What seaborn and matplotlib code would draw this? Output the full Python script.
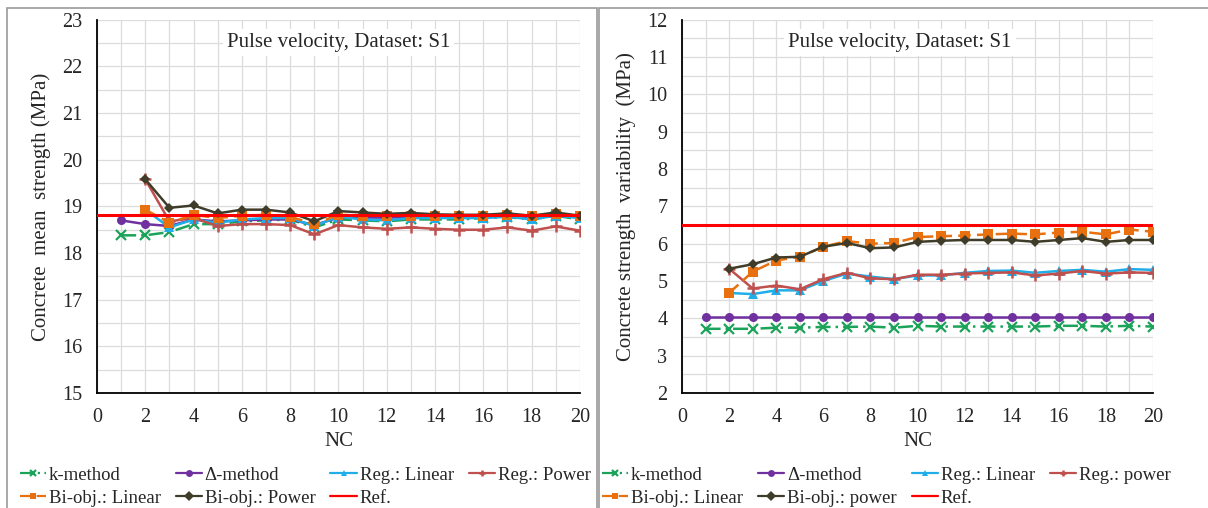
import numpy as np
import pandas as pd
import seaborn as sns
import matplotlib
matplotlib.use("Agg")
import matplotlib.pyplot as plt
from matplotlib.patches import Rectangle

NC = list(range(1, 21))
NC2 = list(range(2, 21))

# Left panel: mean strength (MPa)
mean_k = [18.38, 18.38, 18.45, 18.62, 18.62, 18.68, 18.70, 18.72, 18.55, 18.72,
          18.70, 18.68, 18.72, 18.72, 18.72, 18.75, 18.77, 18.72, 18.80, 18.72]
mean_delta = [18.70, 18.62, 18.58, 18.72, 18.68, 18.70, 18.72, 18.72, 18.60, 18.76,
              18.76, 18.76, 18.77, 18.77, 18.77, 18.77, 18.78, 18.76, 18.80, 18.77]
mean_reg_lin = [18.93, 18.55, 18.72, 18.65, 18.72, 18.75, 18.75, 18.58, 18.78, 18.72,
                18.70, 18.75, 18.75, 18.75, 18.75, 18.78, 18.72, 18.80, 18.75]
mean_reg_pow = [19.58, 18.68, 18.75, 18.58, 18.62, 18.62, 18.60, 18.40, 18.60, 18.55,
                18.52, 18.55, 18.52, 18.50, 18.50, 18.55, 18.48, 18.57, 18.48]
mean_bi_lin = [18.93, 18.65, 18.82, 18.75, 18.80, 18.82, 18.78, 18.62, 18.82, 18.80,
               18.80, 18.80, 18.80, 18.80, 18.80, 18.82, 18.80, 18.84, 18.80]
mean_bi_pow = [19.58, 18.97, 19.02, 18.85, 18.93, 18.93, 18.87, 18.68, 18.90, 18.87,
               18.84, 18.86, 18.83, 18.82, 18.82, 18.85, 18.80, 18.87, 18.80]
mean_ref = 18.82

# Right panel: strength variability (MPa)
var_k = [3.72, 3.72, 3.72, 3.75, 3.75, 3.77, 3.77, 3.78, 3.75, 3.80,
         3.78, 3.78, 3.78, 3.78, 3.78, 3.80, 3.80, 3.78, 3.80, 3.78]
var_delta = [4.03] * 20
var_reg_lin = [4.68, 4.65, 4.75, 4.75, 5.00, 5.20, 5.12, 5.05, 5.15, 5.15,
               5.22, 5.27, 5.28, 5.22, 5.27, 5.30, 5.25, 5.32, 5.30]
var_reg_pow = [5.33, 4.80, 4.88, 4.78, 5.05, 5.22, 5.07, 5.05, 5.17, 5.17,
               5.20, 5.22, 5.23, 5.15, 5.20, 5.27, 5.20, 5.23, 5.22]
var_bi_lin = [4.68, 5.25, 5.55, 5.65, 5.92, 6.07, 6.00, 6.02, 6.18, 6.20,
              6.22, 6.25, 6.27, 6.25, 6.30, 6.32, 6.25, 6.38, 6.32]
var_bi_pow = [5.33, 5.45, 5.63, 5.65, 5.92, 6.02, 5.88, 5.90, 6.05, 6.08,
              6.10, 6.10, 6.10, 6.05, 6.10, 6.15, 6.05, 6.10, 6.10]
var_ref = 6.50

ref_x = [0, 20]

labels_left = ["k-method", "Δ-method", "Reg.: Linear", "Reg.: Power",
               "Bi-obj.: Linear", "Bi-obj.: Power", "Ref."]
labels_right = ["k-method", "Δ-method", "Reg.: Linear", "Reg.: power",
                "Bi-obj.: Linear", "Bi-obj.: power", "Ref."]

sns.set_theme(style="white")
plt.rcParams['font.family'] = ['Liberation Serif', 'DejaVu Serif']
plt.rcParams['mathtext.fontset'] = 'stix'

styles = [
    dict(color="#1BA35A", marker="x", ms=7, mew=1.6, ls=(0, (6, 2, 1, 2))),
    dict(color="#7030A0", marker="o", ms=6.5, mew=0, ls="-"),
    dict(color="#1FAEE8", marker="^", ms=6.5, mew=0, ls="-"),
    dict(color="#C0504D", marker="+", ms=9, mew=1.8, ls="-"),
    dict(color="#E8700F", marker="s", ms=6.5, mew=0, ls=(0, (5, 2.5))),
    dict(color="#3F3C29", marker="D", ms=5.5, mew=0, ls="-"),
    dict(color="#FF0000", marker=None, ms=0, mew=0, ls="-"),
]

fig = plt.figure(figsize=(12.08, 5.08), dpi=100)
# panel frames
fig.patches.append(Rectangle((0.006, -0.01), 0.488, 0.995, transform=fig.transFigure,
                             fill=False, edgecolor="#9a9a9a", lw=1.2))
fig.patches.append(Rectangle((0.496, -0.01), 0.51, 0.995, transform=fig.transFigure,
                             fill=False, edgecolor="#9a9a9a", lw=1.2))

axL = fig.add_axes([0.0803, 0.2264, 0.3997, 0.7346])
axR = fig.add_axes([0.5646, 0.2264, 0.3899, 0.7346])


def draw(ax, series, labels, ref, ylim, ylabel, legend_anchor_x, title_x):
    handles = []
    for (xs, ys), lab, st in zip(series, labels[:-1], styles[:-1]):
        df = pd.DataFrame({"NC": xs, "val": ys})
        sns.lineplot(data=df, x="NC", y="val", ax=ax, color=st["color"],
                     marker=st["marker"], markersize=st["ms"],
                     markeredgewidth=st["mew"], markeredgecolor=st["color"],
                     linewidth=1.8, linestyle=st["ls"], label=lab,
                     legend=False, zorder=3)
        handles.append(ax.lines[-1])
    dref = pd.DataFrame({"NC": ref_x, "val": [ref, ref]})
    sns.lineplot(data=dref, x="NC", y="val", ax=ax, color=styles[-1]["color"],
                 linewidth=2.2, label=labels[-1], legend=False, zorder=4)
    handles.append(ax.lines[-1])

    ax.set_xlim(0, 20)
    ax.set_ylim(*ylim)
    ax.set_xticks(range(0, 21, 2))
    ax.set_xticks(range(0, 21), minor=True)
    ax.set_yticks(np.arange(ylim[0], ylim[1] + 0.01, 1))
    ax.set_yticks(np.arange(ylim[0], ylim[1] + 0.01, 0.5), minor=True)
    ax.grid(True, which="both", color="#dcdcdc", linewidth=0.9, zorder=0)
    ax.set_axisbelow(True)
    for s in ["top", "right"]:
        ax.spines[s].set_visible(False)
    for s in ["left", "bottom"]:
        ax.spines[s].set_color("black")
        ax.spines[s].set_linewidth(1.3)
    ax.tick_params(axis="both", which="both", direction="inout", color="black",
                   width=1.2, labelsize=14.5, pad=6)
    ax.tick_params(axis="both", which="major", length=9)
    ax.tick_params(axis="both", which="minor", length=9)
    ax.set_xlabel("NC", fontsize=15, labelpad=4)
    ax.set_ylabel(ylabel, fontsize=15, labelpad=8)
    ax.text(title_x, 0.94, "Pulse velocity, Dataset: S1",
            transform=ax.transAxes, ha="center", va="center", fontsize=15,
            bbox=dict(facecolor="white", edgecolor="none", pad=3), zorder=5)

    order = [0, 4, 1, 5, 2, 6, 3]
    leg = fig.legend([handles[i] for i in order], [labels[i] for i in order],
                     loc="lower left", bbox_to_anchor=(legend_anchor_x, -0.012),
                     ncol=4, frameon=False, fontsize=13.5, handlelength=1.4,
                     handletextpad=0.15, columnspacing=0.8, labelspacing=0.3,
                     borderaxespad=0.0)
    for h in leg.legend_handles:
        h.set_markersize(5)
        h.set_linewidth(1.6)
    return leg


draw(axL,
     [(NC, mean_k), (NC, mean_delta), (NC2, mean_reg_lin), (NC2, mean_reg_pow),
      (NC2, mean_bi_lin), (NC2, mean_bi_pow)],
     labels_left, mean_ref, (15, 23), "Concrete  mean  strength (MPa)", 0.010, 0.5)
draw(axR,
     [(NC, var_k), (NC, var_delta), (NC2, var_reg_lin), (NC2, var_reg_pow),
      (NC2, var_bi_lin), (NC2, var_bi_pow)],
     labels_right, var_ref, (2, 12), "Concrete strength  variability  (MPa)", 0.492, 0.463)

fig.savefig("out.png", dpi=100)
